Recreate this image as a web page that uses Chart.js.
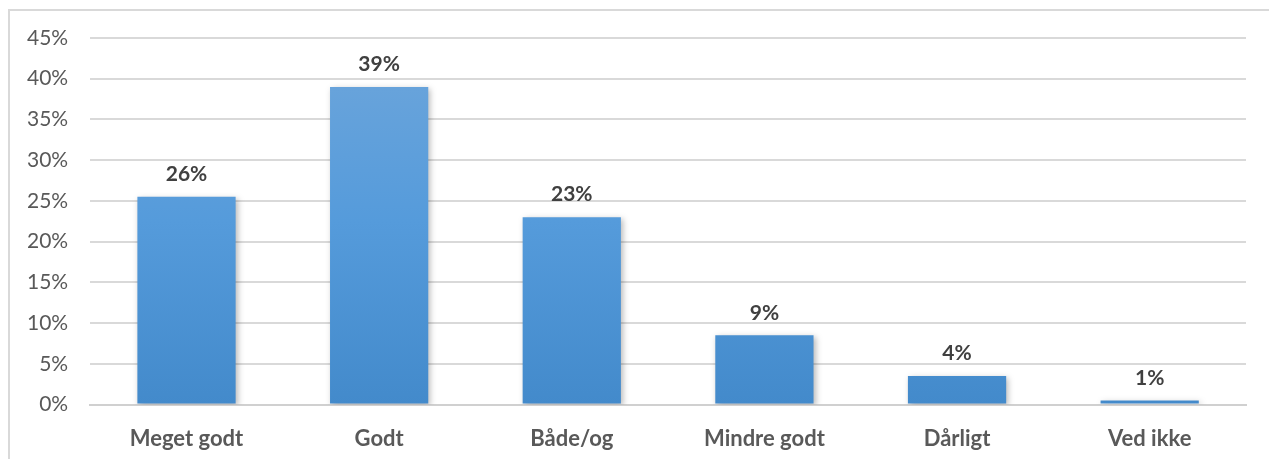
<!DOCTYPE html>
<html>
<head>
<meta charset="utf-8">
<script src="https://cdn.jsdelivr.net/npm/chart.js@4"></script>
<style>
    html, body { margin: 0; padding: 0; background: #fff; overflow: hidden; }
    #ramme { position: absolute; left: 8px; top: 9px; width: 1300px; height: 500px; border: 2px solid #d9d9d9; box-sizing: border-box; }
    #boks { position: absolute; left: 0; top: 0; width: 1269px; height: 470px; }
</style>
</head>
<body>
<div id="ramme"></div>
<div id="boks"><canvas id="diagram"></canvas></div>
<script>
const kategorier = ['Meget godt', 'Godt', 'Både/og', 'Mindre godt', 'Dårligt', 'Ved ikke'];
const andel = [25.5, 39, 23, 8.5, 3.5, 0.5];
const yMaks = 45;
const ySteg = 5;

const diagram = document.getElementById('diagram');

// tall over søylene
const verdiEtiketter = {
    id: 'verdiEtiketter',
    afterDatasetsDraw(chart) {
        const ctx = chart.ctx;
        const meta = chart.getDatasetMeta(0);
        ctx.save();
        ctx.font = 'bold 21px Lato';
        ctx.fillStyle = '#404040';
        ctx.textAlign = 'center';
        ctx.textBaseline = 'bottom';
        meta.data.forEach((bar, i) => {
            ctx.fillText(Math.round(andel[i]) + '%', bar.x, bar.y - 12);
        });
        ctx.restore();
    }
};

// skygge bak søylene
const skygge = {
    id: 'skygge',
    beforeDatasetDraw(chart) {
        const ctx = chart.ctx;
        ctx.save();
        ctx.shadowColor = 'rgba(0,0,0,0.28)';
        ctx.shadowBlur = 6;
        ctx.shadowOffsetX = 2;
        ctx.shadowOffsetY = 2;
    },
    afterDatasetDraw(chart) {
        chart.ctx.restore();
    }
};

function fargeovergang(context) {
    const area = context.chart.chartArea;
    if (!area) return '#5599d6';
    const g = context.chart.ctx.createLinearGradient(0, area.top, 0, area.bottom);
    g.addColorStop(0, '#6ea6db');
    g.addColorStop(0.5, '#559bdb');
    g.addColorStop(1, '#438acb');
    return g;
}

new Chart(diagram, {
    type: 'bar',
    data: {
        labels: kategorier,
        datasets: [{
            data: andel,
            backgroundColor: fargeovergang,
            borderWidth: 0,
            categoryPercentage: 1,
            barPercentage: 0.51
        }]
    },
    options: {
        responsive: true,
        maintainAspectRatio: false,
        animation: false,
        layout: {
            padding: { top: 38, right: 23, bottom: 5, left: 5 }
        },
        plugins: {
            legend: { display: false },
            tooltip: { enabled: false }
        },
        scales: {
            x: {
                grid: { display: false },
                border: { color: '#d0d0d0', width: 2 },
                ticks: {
                    color: '#595959',
                    font: { family: 'Lato', size: 22, weight: 'bold' },
                    padding: 13
                }
            },
            y: {
                min: 0,
                max: yMaks,
                ticks: {
                    stepSize: ySteg,
                    color: '#595959',
                    font: { family: 'Lato', size: 21 },
                    padding: 22,
                    callback: v => v + '%'
                },
                grid: { color: '#d9d9d9', lineWidth: 2, drawTicks: false },
                border: { display: false }
            }
        }
    },
    plugins: [skygge, verdiEtiketter]
});
</script>
</body>
</html>
